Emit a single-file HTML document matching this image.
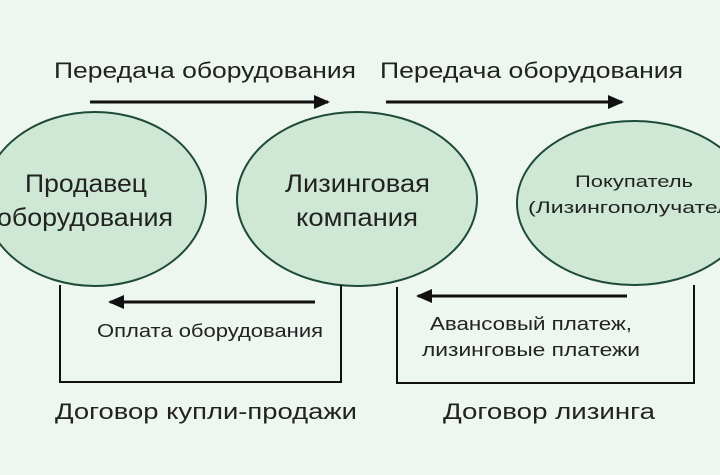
<!DOCTYPE html>
<html><head><meta charset="utf-8"><style>
html,body{margin:0;padding:0;background:#eef6f0;}
svg{display:block}
text{font-family:"Liberation Sans",sans-serif;fill:#222;}
</style></head><body>
<svg width="720" height="475" viewBox="0 0 720 475">
<rect width="720" height="475" fill="#eef6f0"/>
<defs><marker id="a" markerWidth="16" markerHeight="14" refX="14" refY="7" orient="auto" markerUnits="userSpaceOnUse"><path d="M0,0 L16,7 L0,14 z" fill="#111"/></marker></defs>
<g fill="#cfe8d5" stroke="#1e4a38" stroke-width="2">
<ellipse cx="95" cy="199" rx="111" ry="87"/>
<ellipse cx="357" cy="199" rx="120" ry="87"/>
<ellipse cx="634" cy="203" rx="117" ry="82"/>
</g>
<g stroke="#111" stroke-width="3" fill="none">
<line x1="90" y1="102" x2="328" y2="102" marker-end="url(#a)"/>
<line x1="386" y1="102" x2="622" y2="102" marker-end="url(#a)"/>
<line x1="315" y1="302" x2="110" y2="302" marker-end="url(#a)"/>
<line x1="627" y1="296" x2="418" y2="296" marker-end="url(#a)"/>
</g>
<g stroke="#111" stroke-width="2" fill="none">
<polyline points="60,285 60,382 341,382 341,285"/>
<polyline points="397,287 397,383 694,383 694,285"/>
</g>
<g font-size="22">
<text x="54" y="78" textLength="302" lengthAdjust="spacingAndGlyphs">Передача оборудования</text>
<text x="380" y="78" textLength="303" lengthAdjust="spacingAndGlyphs">Передача оборудования</text>
<text x="55" y="419" textLength="302" lengthAdjust="spacingAndGlyphs">Договор купли-продажи</text>
<text x="443" y="419" textLength="212" lengthAdjust="spacingAndGlyphs">Договор лизинга</text>
</g>
<g font-size="25">
<text x="25" y="192" textLength="122" lengthAdjust="spacingAndGlyphs">Продавец</text>
<text x="-3" y="226" textLength="176" lengthAdjust="spacingAndGlyphs">оборудования</text>
<text x="285" y="192" textLength="145" lengthAdjust="spacingAndGlyphs">Лизинговая</text>
<text x="296" y="226" textLength="122" lengthAdjust="spacingAndGlyphs">компания</text>
</g>
<g font-size="17">
<text x="575" y="187" textLength="118" lengthAdjust="spacingAndGlyphs">Покупатель</text>
<text x="528" y="213" textLength="222" lengthAdjust="spacingAndGlyphs">(Лизингополучатель)</text>
</g>
<text x="97" y="337" font-size="18" textLength="226" lengthAdjust="spacingAndGlyphs">Оплата оборудования</text>
<text x="430" y="330" font-size="18" textLength="202" lengthAdjust="spacingAndGlyphs">Авансовый платеж,</text>
<text x="422" y="356" font-size="18" textLength="218" lengthAdjust="spacingAndGlyphs">лизинговые платежи</text>
</svg>
</body></html>
